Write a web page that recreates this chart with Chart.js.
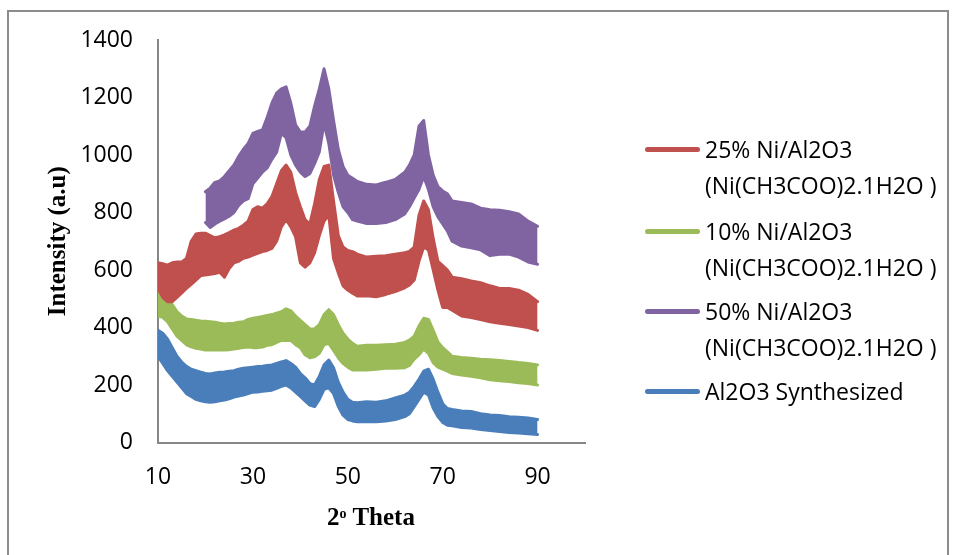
<!DOCTYPE html>
<html>
<head>
<meta charset="utf-8">
<script src="https://cdn.jsdelivr.net/npm/chart.js@4.4.1/dist/chart.umd.min.js"></script>
<style>
html,body{margin:0;padding:0;background:#fff;}
#wrap{position:relative;width:954px;height:555px;overflow:hidden;background:#fff;}
#frame{position:absolute;left:7px;top:10px;width:942px;height:620px;border:2px solid #8c8c8c;box-sizing:border-box;}
#chart{position:absolute;left:0;top:0;}
.lg-sw{position:absolute;left:645px;width:55px;height:5px;border-radius:3px;}
.lg-tx{position:absolute;left:705px;font-family:'Open Sans',sans-serif;font-size:23px;line-height:36px;color:#000;white-space:nowrap;}
#xtitle{position:absolute;left:271px;width:200px;top:502px;text-align:center;font-family:'Liberation Serif',serif;font-weight:bold;font-size:25px;line-height:30px;color:#000;white-space:nowrap;}
#xtitle sup{font-size:14px;position:relative;top:-3px;vertical-align:top;}
</style>
</head>
<body>
<div id="wrap">
  <div id="frame"></div>
  <canvas id="chart" width="954" height="555"></canvas>
  <div id="legend"></div>
  <div id="xtitle">2<sup>o</sup> Theta</div>
</div>
<script>
// 2-theta positions (degrees) at which the band edges were read
const theta = [10,11,12,13,14,15,16,17,18,19,20,21,22,23,24,25,26,27,28,29,30,31,32,33,34,35,36,37,38,39,40,41,42,43,44,45,46,47,48,49,50,51,
  52,54,56,58,60,62,63,64,65,66,67,68,69,70,71,72,74,76,78,80,82,84,86,88,90];

// Al2O3 Synthesized (upper / lower edge of the noisy trace)
const al2o3Upper = [390,380,360,330,300,280,265,255,250,245, 240,238,242,244,245,248,250,255,258,260, 262,264,265,268,270,275,280,285,275,262,
  240,225,205,200,230,270,287,260,210,175, 150,140,
  138,142,140,145,155,165,175,195,220,248,255,220,175,135,118,115,110,108,100,96,94,90,88,85,80];
const al2o3Lower = [300,275,250,230,210,190,170,160,150,145, 142,140,142,145,148,152,158,162,165,170, 175,176,178,180,182,188,195,200,190,175,
  160,145,130,125,150,185,190,170,125,95, 80,75,
  72,72,72,75,80,90,100,125,150,175,165,120,90,70,60,58,52,50,45,42,38,35,33,30,28];

// 10% Ni/Al2O3
const ni10Upper = [525,520,510,480,455,440,430,428,425,423, 422,420,418,415,412,414,415,418,420,428, 432,435,438,442,445,450,455,465,458,440,
  425,410,395,395,410,445,462,445,410,380, 360,345,
  335,338,338,340,342,348,356,370,405,432,428,390,350,330,315,300,296,293,290,288,285,282,278,275,270];
const ni10Lower = [440,435,420,395,370,355,340,333,328,325, 322,322,322,322,322,323,325,328,330,332, 330,330,332,338,340,348,355,355,355,340,
  330,305,295,298,310,340,345,320,295,275, 262,252,
  252,252,255,258,258,260,268,290,305,325,310,278,262,255,248,240,235,230,225,218,215,212,208,205,200];

// 25% Ni/Al2O3
const ni25Upper = [625,622,617,625,628,628,640,700,725,728, 728,720,712,716,722,730,739,745,756,770, 810,820,815,830,855,900,945,965,940,870,
  820,775,760,830,915,960,965,840,720,680, 668,664,
  655,645,648,650,655,660,665,680,790,840,810,710,630,615,600,575,570,562,556,545,536,536,530,515,490];
const ni25Lower = [535,505,490,490,505,520,536,550,565,580, 583,585,588,592,575,605,625,630,641,645, 652,658,664,668,675,700,750,775,750,715,
  625,610,625,660,720,770,790,640,590,545, 530,519,
  510,510,507,515,525,538,548,565,630,680,670,600,530,470,470,460,440,435,428,420,415,410,405,400,390];

// 50% Ni/Al2O3 (recorded from 20 degrees)
const ni50Upper = [null,null,null,null,null,null,null,null,null,null, 872,885,905,910,925,945,965,995,1020,1040, 1075,1082,1087,1130,1180,1215,1230,1237,1180,1105,
  1080,1080,1100,1170,1230,1300,1230,1120,1020,960, 930,919,
  908,898,896,905,915,940,965,1000,1100,1120,1000,930,890,875,865,840,835,830,815,810,808,803,795,770,752];
const ni50Lower = [null,null,null,null,null,null,null,null,null,null, 765,748,760,770,778,787,800,825,840,848, 900,920,940,955,985,1010,1075,1060,1000,965,
  940,925,935,970,1011,1110,1040,930,870,820, 800,775,
  770,762,762,765,775,795,820,850,880,925,880,820,785,760,735,700,683,677,670,650,655,655,645,628,620];

const xTicks = [10,30,50,70,90];
const yTicks = [0,200,400,600,800,1000,1200,1400];

const seriesNames = ['25% Ni/Al2O3 (Ni(CH3COO)2.1H2O )','10% Ni/Al2O3 (Ni(CH3COO)2.1H2O )','50% Ni/Al2O3 (Ni(CH3COO)2.1H2O )','Al2O3 Synthesized'];
const legendLines = [['25% Ni/Al2O3','(Ni(CH3COO)2.1H2O )'],['10% Ni/Al2O3','(Ni(CH3COO)2.1H2O )'],['50% Ni/Al2O3','(Ni(CH3COO)2.1H2O )'],['Al2O3 Synthesized']];
const colors = ['#c0504d','#9bbb59','#8064a2','#4a7ebb'];

function pts(arr){
  const out=[];
  for(let i=0;i<theta.length;i++){ if(arr[i]!==null && arr[i]!==undefined) out.push({x:theta[i], y:arr[i]}); }
  return out;
}
const bands = [
  {u:ni25Upper,l:ni25Lower,c:colors[0],n:seriesNames[0]},
  {u:ni10Upper,l:ni10Lower,c:colors[1],n:seriesNames[1]},
  {u:ni50Upper,l:ni50Lower,c:colors[2],n:seriesNames[2]},
  {u:al2o3Upper,l:al2o3Lower,c:colors[3],n:seriesNames[3]}
];
const datasets=[];
bands.forEach(b=>{
  datasets.push({label:b.n, data:pts(b.u), borderColor:b.c, backgroundColor:b.c, borderWidth:3, pointRadius:0, fill:'+1', tension:0, borderJoinStyle:'round', borderCapStyle:'round'});
  datasets.push({label:b.n+' (lower)', data:pts(b.l), borderColor:b.c, backgroundColor:b.c, borderWidth:3, pointRadius:0, fill:false, tension:0, borderJoinStyle:'round', borderCapStyle:'round'});
});

const tickFont = {family:'Open Sans', size:23};
new Chart(document.getElementById('chart'), {
  type:'line',
  data:{datasets},
  options:{
    responsive:false, animation:false, parsing:true,
    layout:{padding:{left:40,right:369,top:40,bottom:52.5}},
    plugins:{legend:{display:false}, tooltip:{enabled:false}},
    scales:{
      x:{type:'linear', min:10, max:100,
        afterBuildTicks(a){ a.ticks = xTicks.map(v=>({value:v})); },
        afterFit(s){ s.height = 60; },
        ticks:{font:tickFont, color:'#000', padding:21, maxRotation:0, autoSkip:false, callback:v=>String(v)},
        grid:{display:false, drawTicks:false},
        border:{display:true, color:'#868686', width:2}},
      y:{type:'linear', min:0, max:1400,
        afterBuildTicks(a){ a.ticks = yTicks.map(v=>({value:v})); },
        afterFit(s){ s.width = 118; },
        ticks:{font:tickFont, color:'#000', padding:25, callback:v=>String(v)},
        grid:{display:false, drawTicks:false},
        border:{display:true, color:'#868686', width:2},
        title:{display:true, text:'Intensity (a.u)', color:'#000', font:{family:'Liberation Serif', size:25, weight:'bold'}, padding:{top:4,bottom:0}}}
    }
  }
});

// legend
const lg = document.getElementById('legend');
const firstY = [149.3, 231.7, 311.5, 391.7];
legendLines.forEach((lines,i)=>{
  const sw=document.createElement('div'); sw.className='lg-sw'; sw.style.background=colors[i]; sw.style.top=(firstY[i]-2.5)+'px'; lg.appendChild(sw);
  lines.forEach((t,j)=>{
    const d=document.createElement('div'); d.className='lg-tx'; d.textContent=t; d.style.top=(firstY[i]+j*36-18.5)+'px'; lg.appendChild(d);
  });
});
</script>
</body>
</html>
